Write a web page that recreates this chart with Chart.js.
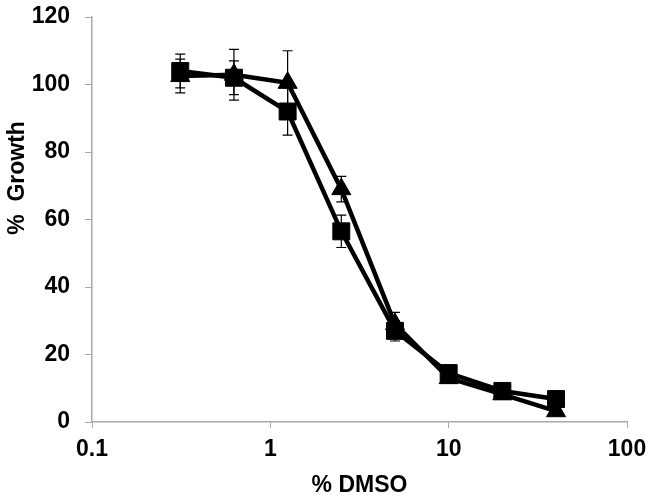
<!DOCTYPE html>
<html>
<head>
<meta charset="utf-8">
<script src="https://cdn.jsdelivr.net/npm/chart.js@4/dist/chart.umd.min.js"></script>
<style>
  html, body { margin: 0; padding: 0; background: #fff; }
  #wrap { width: 654px; height: 501px; }
</style>
</head>
<body>
<div id="wrap"><canvas id="chart"></canvas></div>
<script>
// --- Data ---
const dmso = [0.3125, 0.625, 1.25, 2.5, 5, 10, 20, 40];
const squareGrowth = [104, 102, 92, 56.5, 27, 14.5, 9.2, 6.8];
const squareErr = [5, 5, 7, 4.8, 3, 1.5, 1, 1];
const triangleGrowth = [102.5, 102.9, 100.5, 69, 29, 13, 8.2, 3.2];
const triangleErr = [5, 7.5, 9.5, 3.8, 3.5, 1.5, 1, 1];
const xTicks = [0.1, 1, 10, 100];
const yTicks = [0, 20, 40, 60, 80, 100, 120];

const toPoints = (ys, errs) => dmso.map((x, i) => ({ x: x, y: ys[i], err: errs[i] }));

// draws vertical error bars with caps, under the lines and markers
const errorBars = {
    id: 'errorBars',
    beforeDatasetsDraw(chart) {
        const { ctx, scales: { x, y } } = chart;
        ctx.save();
        ctx.strokeStyle = '#000';
        ctx.lineWidth = 1.2;
        chart.data.datasets.forEach((ds) => {
            ds.data.forEach((p) => {
                const px = x.getPixelForValue(p.x);
                const top = y.getPixelForValue(p.y + p.err);
                const bot = y.getPixelForValue(p.y - p.err);
                ctx.beginPath();
                ctx.moveTo(px, top); ctx.lineTo(px, bot);
                ctx.moveTo(px - 5, top); ctx.lineTo(px + 5, top);
                ctx.moveTo(px - 5, bot); ctx.lineTo(px + 5, bot);
                ctx.stroke();
            });
        });
        ctx.restore();
    }
};

const axisColor = '#a8a8a8';
const tickFont = { family: 'Liberation Sans, Arial, sans-serif', size: 23, weight: 'bold' };

new Chart(document.getElementById('chart'), {
    type: 'scatter',
    data: {
        datasets: [{
            label: 'Square',
            data: toPoints(squareGrowth, squareErr),
            showLine: true,
            borderColor: '#000',
            backgroundColor: '#000',
            borderWidth: 4.5,
            pointStyle: 'rect',
            pointRadius: 12,
            pointBorderWidth: 1
        }, {
            label: 'Triangle',
            data: toPoints(triangleGrowth, triangleErr),
            showLine: true,
            borderColor: '#000',
            backgroundColor: '#000',
            borderWidth: 4.5,
            pointStyle: 'triangle',
            pointRadius: 11,
            pointBorderWidth: 1
        }]
    },
    options: {
        responsive: true,
        maintainAspectRatio: false,
        animation: false,
        layout: { padding: { top: 17, right: 27, left: 0, bottom: 0 } },
        plugins: { legend: { display: false }, tooltip: { enabled: false } },
        scales: {
            x: {
                type: 'logarithmic',
                min: 0.1,
                max: 100,
                afterBuildTicks: (scale) => { scale.ticks = xTicks.map(v => ({ value: v })); },
                afterFit: (scale) => { scale.height = 79; scale.paddingLeft = 0; scale.paddingRight = 0; },
                ticks: {
                    color: '#000',
                    font: tickFont,
                    padding: 8,
                    maxRotation: 0,
                    callback: (v) => String(v)
                },
                grid: { drawOnChartArea: false, drawTicks: true, tickLength: 6, color: axisColor },
                border: { color: axisColor, width: 1.5 },
                title: { display: true, text: '% DMSO', color: '#000', font: tickFont, padding: { top: 4, bottom: 2 } }
            },
            y: {
                min: 0,
                max: 120,
                afterBuildTicks: (scale) => { scale.ticks = yTicks.map(v => ({ value: v })); },
                afterFit: (scale) => { scale.width = 92; scale.paddingTop = 0; scale.paddingBottom = 0; },
                ticks: { color: '#000', font: tickFont, padding: 15 },
                grid: { drawOnChartArea: false, drawTicks: true, tickLength: 7, color: axisColor },
                border: { color: axisColor, width: 1.5 },
                title: { display: true, text: '             %  Growth', color: '#000', font: tickFont, padding: { top: 4, bottom: 4 } }
            }
        }
    },
    plugins: [errorBars]
});
</script>
</body>
</html>
